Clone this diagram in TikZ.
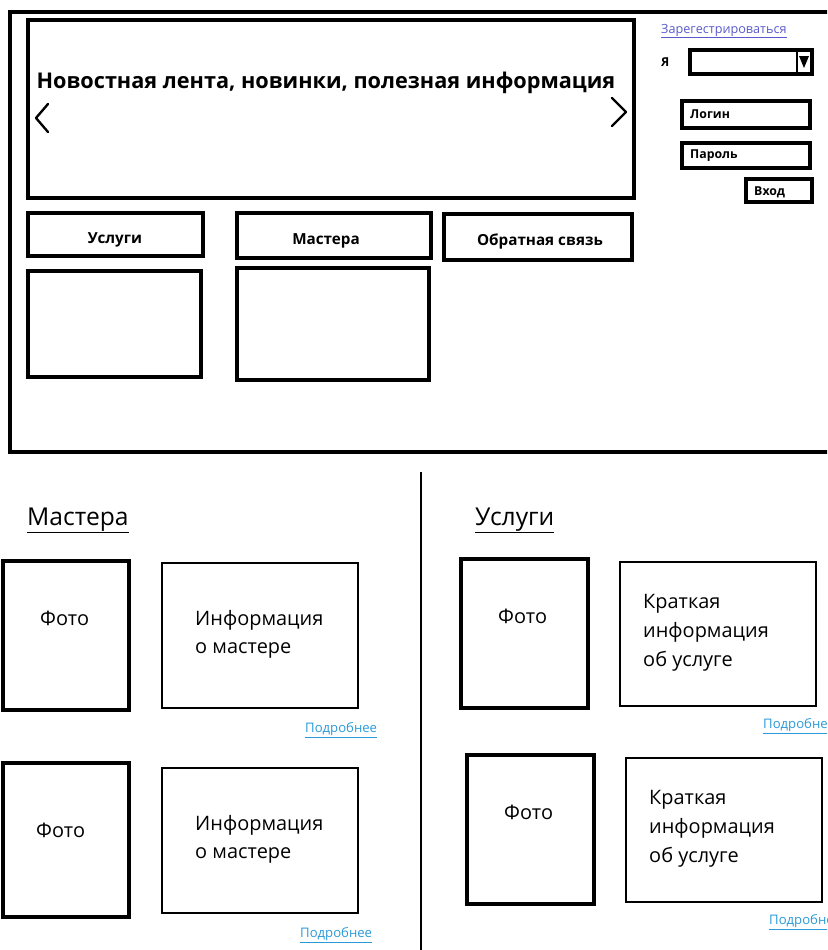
\documentclass[tikz,border=0pt]{standalone}
\usepackage{fontspec}
\setmainfont{Open Sans}
\definecolor{linkviolet}{HTML}{5A5ACD}
\definecolor{linkblue}{HTML}{2A9AD8}
\begin{document}
\begin{tikzpicture}[x=0.03cm,y=-0.03cm,
    frame/.style={line width=3.2pt},
    heavybox/.style={line width=3pt},
    lightbox/.style={line width=1.6pt},
    lbl/.style={font=\bfseries\fontsize{13}{15}\selectfont,inner sep=0pt,anchor=base},
    smalllbl/.style={font=\bfseries\fontsize{10.5}{12}\selectfont,inner sep=0pt,anchor=base west},
    body/.style={font=\fontsize{17}{20}\selectfont,inner sep=0pt,anchor=base west},
    heading/.style={font=\fontsize{21}{24}\selectfont,inner sep=0pt,anchor=base west},
    more/.style={font=\fontsize{11.2}{13}\selectfont,text=linkblue,inner sep=0pt,anchor=base west}]
    \clip(0,0)rectangle(827,950);
    \fill[white](0,0)rectangle(827,950);
    % upper half: main page
    \draw[frame](10,12)rectangle(845,452);
    \draw[heavybox](28,20)rectangle(634,198);
    \node[font=\bfseries\fontsize{18.5}{22}\selectfont,inner sep=0pt,anchor=base](news)at(326,88){Новостная лента, новинки, полезная информация};
    \draw[line width=2pt,line cap=round,line join=round](48,104)--(36,118)--(48,132);
    \draw[line width=2pt,line cap=round,line join=round](612,98)--(626,112)--(612,126);
    % login panel
    \node[font=\fontsize{10.8}{12}\selectfont,text=linkviolet,inner sep=0pt,anchor=base west](reg)at(661,33){\underline{Зарегестрироваться}};
    \node[smalllbl](me)at(661,66){Я};
    \draw[heavybox](690,50)rectangle(812,74);
    \draw[line width=1.5pt](797,50)--(797,74);
    \fill(799,56)--(809,56)--(804,68)--cycle;
    \draw[heavybox](682,101)rectangle(810,128);
    \node[smalllbl](login)at(690,118){Логин};
    \draw[heavybox](682,143)rectangle(810,168);
    \node[smalllbl](pass)at(690,158){Пароль};
    \draw[heavybox](746,179)rectangle(812,202);
    \node[smalllbl](enter)at(754,195){Вход};
    % menu buttons
    \draw[heavybox](28,213)rectangle(203,256);
    \node[lbl](srv)at(115,243){Услуги};
    \draw[heavybox](237,213)rectangle(431,258);
    \node[lbl](mst)at(326,244){Мастера};
    \draw[heavybox](444,214)rectangle(632,260);
    \node[lbl](fb)at(540,245){Обратная связь};
    \draw[heavybox](28,271)rectangle(201,377);
    \draw[heavybox](237,268)rectangle(429,380);
    % lower half: the two lists
    \draw[line width=1.5pt](421,472)--(421,950);
    \node[heading](mhead)at(27,525){\underline{Мастера}};
    \node[heading](shead)at(475,525){\underline{Услуги}};
    % masters
    \foreach \i/\py/\pb/\fx/\fb/\iy/\ib/\mx/\mb in{1/561/710/40/625/563/708/305/732,2/763/917/36/837/768/913/300/937}{
        \draw[heavybox](3,\py)rectangle(129,\pb);
        \node[body](mphoto\i)at(\fx,\fb){Фото};
        \draw[lightbox](162,\iy)rectangle(358,\ib);
        \node[body](minfo\i)at(195,\iy+62){Информация};
        \node[body](mabout\i)at(195,\iy+90){о мастере};
        \node[more](mmore\i)at(\mx,\mb){\underline{Подробнее}};
    }
    % services
    \foreach \i/\dx/\dy in{1/0/0,2/6/196}{
        \draw[heavybox](461+\dx,559+\dy)rectangle(588+\dx,708+\dy);
        \node[body](sphoto\i)at(498+\dx,623+\dy){Фото};
        \draw[lightbox](620+\dx,562+\dy)rectangle(816+\dx,706+\dy);
        \node[body](sshort\i)at(643+\dx,608+\dy){Краткая};
        \node[body](sinfo\i)at(643+\dx,637+\dy){информация};
        \node[body](sabout\i)at(643+\dx,666+\dy){об услуге};
        \node[more](smore\i)at(763+\dx,728+\dy){\underline{Подробнее}};
    }
\end{tikzpicture}
\end{document}
